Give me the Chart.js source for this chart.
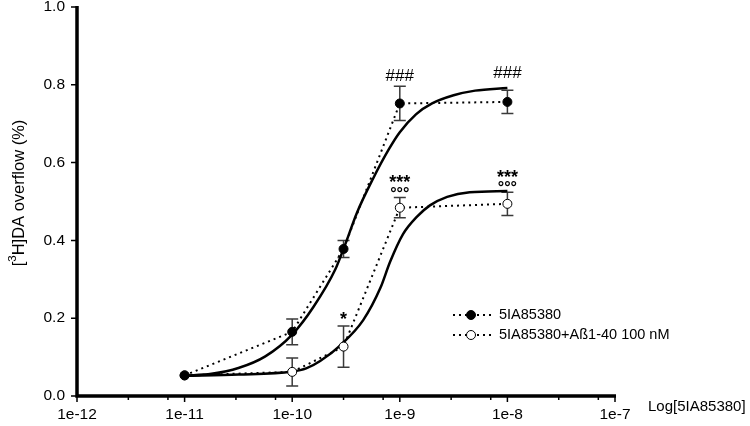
<!DOCTYPE html>
<html>
<head>
<meta charset="utf-8">
<script src="https://cdn.jsdelivr.net/npm/chart.js@4"></script>
<style>
html,body{margin:0;padding:0;background:#fff;}
#wrap{width:750px;height:426px;position:relative;}
</style>
</head>
<body>
<div id="wrap"><canvas id="c" width="750" height="426"></canvas></div>
<script>
// ---- data ----
const concentrations = [1e-11, 1e-10, 3e-10, 1e-9, 1e-8];
const seriesA = [0.053, 0.165, 0.378, 0.752, 0.756];      // 5IA85380
const seriesAErr = [0, 0.033, 0.022, 0.044, 0.030];
const seriesB = [0.053, 0.062, 0.127, 0.484, 0.494];      // 5IA85380+Aß1-40 100 nM
const seriesBErr = [0, 0.036, 0.053, 0.026, 0.030];

// fitted curves (log10 concentration, value)
const fitALog = [-11.0, -10.75, -10.5, -10.25, -10.0, -9.8, -9.6, -9.5, -9.4, -9.25, -9.1, -9.0, -8.85, -8.7, -8.5, -8.3, -8.0];
const fitAVal = [0.052, 0.057, 0.072, 0.102, 0.158, 0.230, 0.325, 0.395, 0.470, 0.558, 0.635, 0.678, 0.724, 0.752, 0.773, 0.785, 0.792];
const fitBLog = [-11.0, -10.5, -10.0, -9.87, -9.74, -9.55, -9.34, -9.18, -9.09, -8.97, -8.84, -8.72, -8.56, -8.35, -8.0];
const fitBVal = [0.052, 0.055, 0.063, 0.071, 0.090, 0.131, 0.195, 0.278, 0.345, 0.416, 0.461, 0.490, 0.512, 0.524, 0.527];

const xTickDecades = [1e-12, 1e-11, 1e-10, 1e-9, 1e-8, 1e-7];
const xMinorFactors = [3, 7];
const yTicks = [0, 0.2, 0.4, 0.6, 0.8, 1.0];

const annoText = ['###', '###', '***', '°°°', '***', '°°°', '*'];
const annoX = [1e-9, 1e-8, 1e-9, 1e-9, 1e-8, 1e-8, 3e-10];
const annoY = [0.825, 0.834, 0.559, 0.530, 0.572, 0.547, 0.208];

const legendLabels = ['5IA85380', '5IA85380+Aß1-40 100 nM'];
const xTitle = 'Log[5IA85380]';

// ---- build ----
const FONT = "'Liberation Sans', Arial, sans-serif";
Chart.defaults.font.family = FONT;
Chart.defaults.color = '#000';

const toPts = (xs, ys) => xs.map((x, i) => ({x: x, y: ys[i]}));
const fitPts = (ls, vs) => ls.map((l, i) => ({x: Math.pow(10, l), y: vs[i]}));

const overlay = {
  id: 'overlay',
  beforeDatasetsDraw(chart) {
    const ctx = chart.ctx, xs = chart.scales.x, ys = chart.scales.y;
    ctx.save();
    ctx.strokeStyle = '#3a3a3a';
    ctx.lineWidth = 1.5;
    [[seriesA, seriesAErr], [seriesB, seriesBErr]].forEach(([vals, errs]) => {
      vals.forEach((v, i) => {
        const e = errs[i];
        if (!e) return;
        const px = xs.getPixelForValue(concentrations[i]);
        const t = ys.getPixelForValue(v + e), b = ys.getPixelForValue(v - e);
        ctx.beginPath();
        ctx.moveTo(px, t); ctx.lineTo(px, b);
        ctx.moveTo(px - 6, t); ctx.lineTo(px + 6, t);
        ctx.moveTo(px - 6, b); ctx.lineTo(px + 6, b);
        ctx.stroke();
      });
    });
    ctx.restore();
  },
  afterDraw(chart) {
    const ctx = chart.ctx, xs = chart.scales.x, ys = chart.scales.y;
    const ca = chart.chartArea;
    ctx.save();
    // axes
    ctx.strokeStyle = '#000';
    ctx.lineWidth = 3.5;
    ctx.beginPath();
    ctx.moveTo(ca.left, ys.getPixelForValue(1.0) - 1);
    ctx.lineTo(ca.left, ca.bottom + 1.75);
    ctx.moveTo(ca.left - 1.75, ca.bottom);
    ctx.lineTo(xs.getPixelForValue(1e-7) + 1, ca.bottom);
    ctx.stroke();
    // y ticks
    ctx.lineWidth = 1.5;
    ctx.beginPath();
    yTicks.forEach(v => {
      const py = ys.getPixelForValue(v);
      ctx.moveTo(ca.left - 6, py); ctx.lineTo(ca.left, py);
    });
    // x ticks
    xTickDecades.forEach((d, k) => {
      const px = xs.getPixelForValue(d);
      ctx.moveTo(px, ca.bottom); ctx.lineTo(px, ca.bottom + 6);
      if (k < xTickDecades.length - 1) {
        xMinorFactors.forEach(f => {
          const mx = xs.getPixelForValue(d * f);
          ctx.moveTo(mx, ca.bottom); ctx.lineTo(mx, ca.bottom + 4);
        });
      }
    });
    ctx.stroke();

    // annotations
    ctx.fillStyle = '#000';
    ctx.textAlign = 'center';
    ctx.textBaseline = 'alphabetic';
    annoText.forEach((t, i) => {
      if (t.indexOf('*') >= 0) ctx.font = 'bold 18px ' + FONT;
      else if (t.indexOf('#') >= 0) ctx.font = '17px ' + FONT;
      else ctx.font = 'bold 16px ' + FONT;
      const m = ctx.measureText(t);
      const cy = ys.getPixelForValue(annoY[i]);
      const y = cy - (m.actualBoundingBoxDescent - m.actualBoundingBoxAscent) / 2;
      ctx.fillText(t, xs.getPixelForValue(annoX[i]), y);
    });

    // legend
    const rows = [315, 335];
    rows.forEach((ry, i) => {
      ctx.save();
      ctx.strokeStyle = '#000';
      ctx.lineWidth = 2;
      ctx.setLineDash([2, 4]);
      ctx.beginPath();
      ctx.moveTo(453, ry); ctx.lineTo(491, ry);
      ctx.stroke();
      ctx.setLineDash([]);
      ctx.beginPath();
      ctx.arc(471, ry, 4.5, 0, Math.PI * 2);
      ctx.fillStyle = i === 0 ? '#000' : '#fff';
      ctx.fill();
      ctx.lineWidth = 1;
      ctx.stroke();
      ctx.restore();
      ctx.font = '14.5px ' + FONT;
      ctx.textAlign = 'left';
      ctx.textBaseline = 'middle';
      ctx.fillStyle = '#000';
      ctx.fillText(legendLabels[i], 499, ry);
    });

    // x title
    ctx.font = '15px ' + FONT;
    ctx.textAlign = 'left';
    ctx.textBaseline = 'middle';
    ctx.fillText(xTitle, 648, 407);

    // y title with superscript
    ctx.save();
    ctx.translate(19, 193);
    ctx.rotate(-Math.PI / 2);
    ctx.textBaseline = 'middle';
    ctx.textAlign = 'left';
    const big = '16.5px ' + FONT, small = '11.5px ' + FONT;
    ctx.font = big; const w1 = ctx.measureText('[').width;
    const w3p = ctx.measureText('H]DA overflow (%)').width;
    ctx.font = small; const w2 = ctx.measureText('3').width;
    let x0 = -(w1 + w2 + w3p) / 2;
    ctx.font = big; ctx.fillText('[', x0, 0); x0 += w1;
    ctx.font = small; ctx.fillText('3', x0, -6); x0 += w2;
    ctx.font = big; ctx.fillText('H]DA overflow (%)', x0, 0);
    ctx.restore();

    ctx.restore();
  }
};

new Chart(document.getElementById('c'), {
  type: 'scatter',
  data: {
    datasets: [
      {
        label: legendLabels[0],
        data: toPts(concentrations, seriesA),
        showLine: true, tension: 0,
        borderColor: '#000', borderWidth: 2, borderDash: [2, 4],
        pointRadius: 4.5, pointBackgroundColor: '#000', pointBorderColor: '#000', pointBorderWidth: 1,
        order: 0
      },
      {
        label: legendLabels[1],
        data: toPts(concentrations, seriesB),
        showLine: true, tension: 0,
        borderColor: '#000', borderWidth: 2, borderDash: [2, 4],
        pointRadius: 4.5, pointBackgroundColor: '#fff', pointBorderColor: '#000', pointBorderWidth: 1,
        order: 0
      },
      {
        label: 'fitA',
        data: fitPts(fitALog, fitAVal),
        showLine: true, cubicInterpolationMode: 'monotone',
        borderColor: '#000', borderWidth: 2.5, pointRadius: 0,
        order: 1
      },
      {
        label: 'fitB',
        data: fitPts(fitBLog, fitBVal),
        showLine: true, cubicInterpolationMode: 'monotone',
        borderColor: '#000', borderWidth: 2.5, pointRadius: 0,
        order: 1
      }
    ]
  },
  options: {
    responsive: false,
    animation: false,
    events: [],
    layout: { padding: { top: 7, right: 135, left: 0, bottom: 0 } },
    plugins: { legend: { display: false }, tooltip: { enabled: false } },
    scales: {
      x: {
        type: 'logarithmic',
        min: 1e-12, max: 1e-7,
        grid: { display: false, drawTicks: false },
        border: { display: false },
        afterBuildTicks: (s) => {
          const t = [];
          xTickDecades.forEach((d, k) => {
            t.push({ value: d });
            if (k < xTickDecades.length - 1) xMinorFactors.forEach(f => t.push({ value: d * f }));
          });
          t.sort((a, b) => a.value - b.value);
          s.ticks = t;
        },
        afterFit: (s) => { s.height = 30; s.paddingLeft = 0; s.paddingRight = 0; },
        ticks: {
          autoSkip: false, maxRotation: 0, minRotation: 0, padding: 9,
          font: { size: 15.5 }, color: '#000',
          callback: (v) => {
            const l = Math.log10(v), r = Math.round(l);
            return Math.abs(l - r) < 1e-6 ? '1e' + r : '';
          }
        }
      },
      y: {
        min: 0, max: 1.0,
        grid: { display: false, drawTicks: false },
        border: { display: false },
        afterBuildTicks: (s) => { s.ticks = yTicks.map(v => ({ value: v })); },
        afterFit: (s) => { s.width = 77; s.paddingTop = 0; s.paddingBottom = 0; },
        ticks: {
          padding: 12, font: { size: 15.5 }, color: '#000',
          callback: (v) => Number(v).toFixed(1)
        }
      }
    }
  },
  plugins: [overlay]
});
</script>
</body>
</html>
